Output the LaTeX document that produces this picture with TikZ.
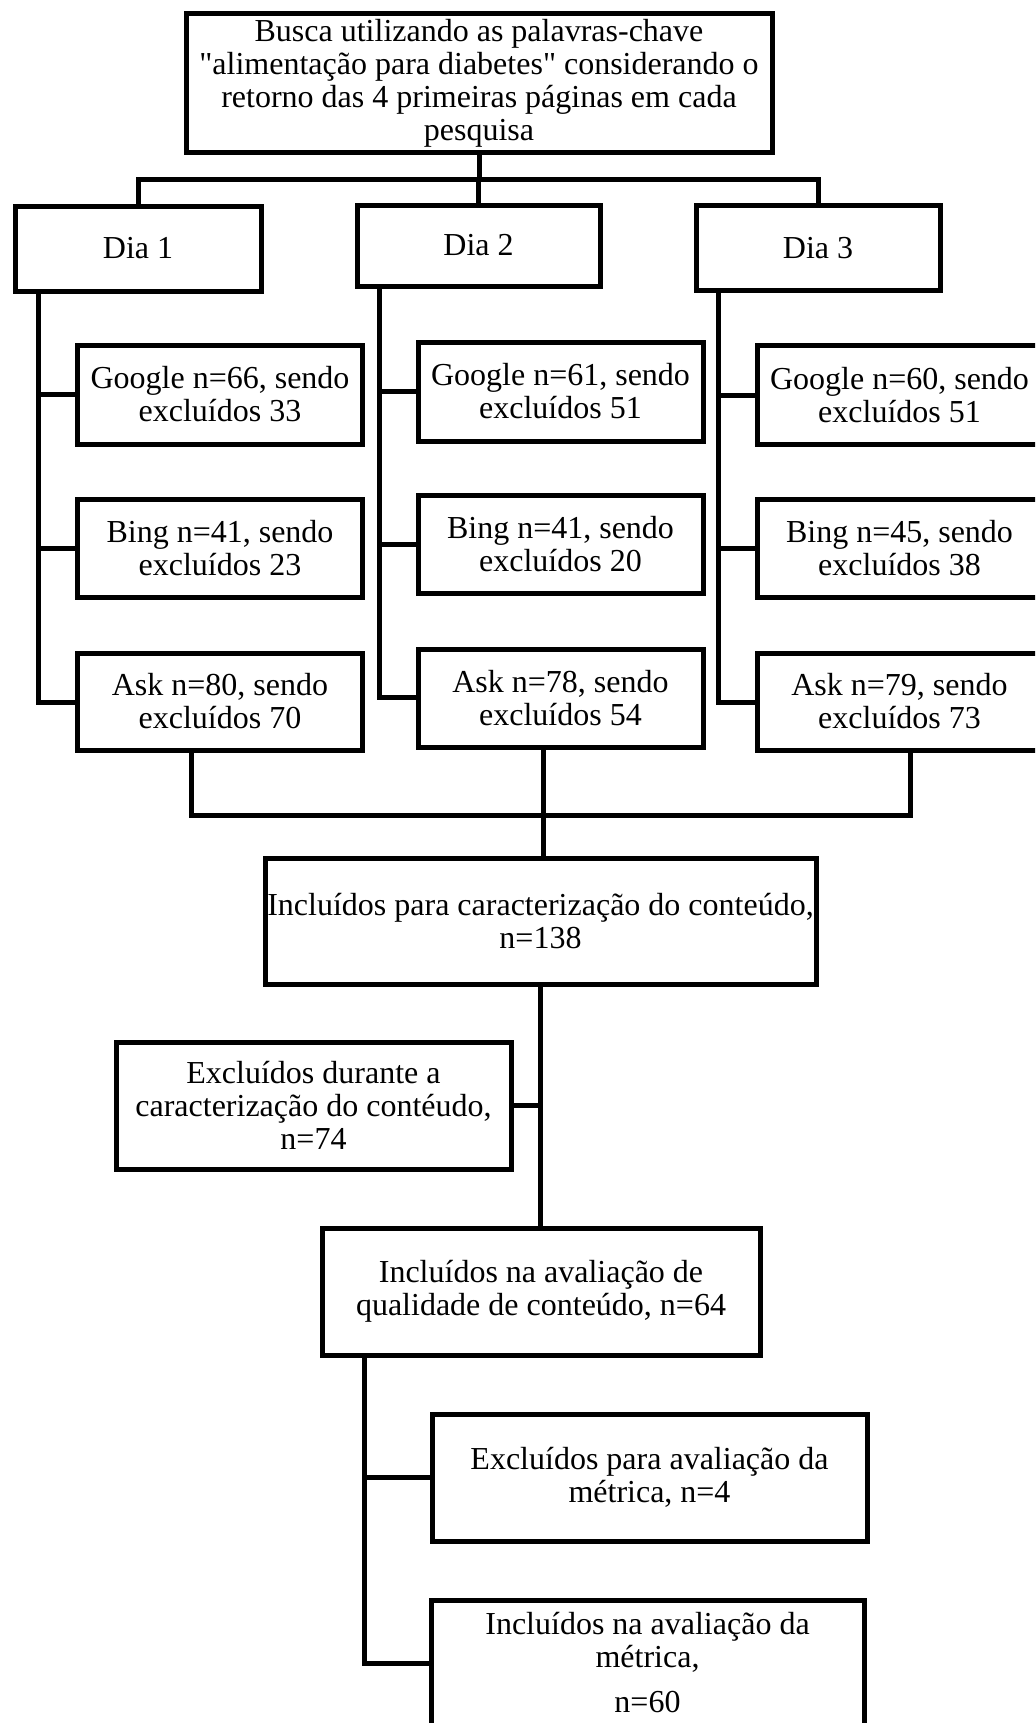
\documentclass[tikz,border=0pt]{standalone}
\usepackage{fontspec}
\setmainfont{Liberation Serif}[Ligatures=TeXOff]
\begin{document}
\begin{tikzpicture}[x=0.5pt,y=-0.5pt,
  box/.style={draw=black,line width=2.5pt,fill=white,inner sep=0pt,align=center,
    font=\fontsize{16}{16.5}\selectfont},
  txt/.style={inner sep=0pt,align=center,font=\fontsize{16}{16.5}\selectfont},
  conn/.style={draw=black,line width=2.5pt}]
\useasboundingbox (0,0) rectangle (1035,1723);
\clip (0,0) rectangle (1035,1723);
\fill[white] (0,0) rectangle (1035,1723);

% top
\node[box,minimum width=293pt,minimum height=69pt] (top) at (479,83)
 {Busca utilizando as palavras-chave\\"alimentação para diabetes" considerando o\\retorno das 4 primeiras páginas em cada\\pesquisa};

% days
\node[box,minimum width=123pt,minimum height=42.5pt] (dia1) at (138,248.5) {Dia 1};
\node[box,minimum width=121.5pt,minimum height=40.5pt] (dia2) at (478.5,245.5) {Dia 2};
\node[box,minimum width=122pt,minimum height=42.5pt] (dia3) at (818,248) {Dia 3};

% column 1
\node[box,minimum width=142.5pt,minimum height=49.5pt] (g1) at (220,394.5) {Google n=66, sendo\\excluídos 33};
\node[box,minimum width=142.5pt,minimum height=49pt] (b1) at (220,548) {Bing n=41, sendo\\excluídos 23};
\node[box,minimum width=142.5pt,minimum height=48.5pt] (a1) at (220,701.5) {Ask n=80, sendo\\excluídos 70};
% column 2
\node[box,minimum width=142.5pt,minimum height=49.5pt] (g2) at (560.5,391.5) {Google n=61, sendo\\excluídos 51};
\node[box,minimum width=142.5pt,minimum height=49pt] (b2) at (560.5,544) {Bing n=41, sendo\\excluídos 20};
\node[box,minimum width=142.5pt,minimum height=49pt] (a2) at (560.5,698) {Ask n=78, sendo\\excluídos 54};
% column 3
\node[box,minimum width=142.5pt,minimum height=49.5pt] (g3) at (899.5,395) {Google n=60, sendo\\excluídos 51};
\node[box,minimum width=142.5pt,minimum height=49pt] (b3) at (899.5,548) {Bing n=45, sendo\\excluídos 38};
\node[box,minimum width=142.5pt,minimum height=48.5pt] (a3) at (899.5,701.5) {Ask n=79, sendo\\excluídos 73};

% lower chain
\node[box,minimum width=275.5pt,minimum height=63pt] (inc1) at (540.5,921) {Incluídos para caracterização do conteúdo,\\n=138};
\node[box,minimum width=197.5pt,minimum height=63.5pt] (exc1) at (313.5,1105.5) {Excluídos durante a\\caracterização do contéudo,\\n=74};
\node[box,minimum width=219pt,minimum height=63.5pt] (inc2) at (541,1291.5) {Incluídos na avaliação de\\qualidade de conteúdo, n=64};
\node[box,minimum width=217.5pt,minimum height=63.5pt] (exc2) at (649.5,1477.5) {Excluídos para avaliação da\\métrica, n=4};
\node[box,minimum width=216.5pt,minimum height=80pt] (inc3) at (647.5,1680) {};
\node[txt,anchor=north] (inc3t) at (647.5,1612) {Incluídos na avaliação da\\métrica,\\[6pt]n=60};

% connectors: top to days
\coordinate (t) at (479,179);
\draw[conn] (top.south) -- (t);
\draw[conn] (dia1.north) |- (t) -| (dia3.north);
\draw[conn] (dia2.north) -- (dia2.north |- t);

% day spines
\coordinate (v1) at (38.5,702);
\coordinate (v2) at (379,697);
\coordinate (v3) at (718.5,702);
\draw[conn] (dia1.south -| v1) -- (v1) -- (a1.west |- v1);
\draw[conn] (g1.west) -- (g1.west -| v1);
\draw[conn] (b1.west) -- (b1.west -| v1);
\draw[conn] (dia2.south -| v2) -- (v2) -- (a2.west |- v2);
\draw[conn] (g2.west) -- (g2.west -| v2);
\draw[conn] (b2.west) -- (b2.west -| v2);
\draw[conn] (dia3.south -| v3) -- (v3) -- (a3.west |- v3);
\draw[conn] (g3.west) -- (g3.west -| v3);
\draw[conn] (b3.west) -- (b3.west -| v3);

% merge
\coordinate (j1) at (191,815);
\coordinate (j2) at (543,815);
\coordinate (j3) at (910,815);
\draw[conn] (a1.south -| j1) -- (j1) -- (j3) -- (a3.south -| j3);
\draw[conn] (a2.south -| j2) -- (inc1.north -| j2);

% lower
\draw[conn] (inc1.south) -- (inc1.south |- inc2.north);
\draw[conn] (exc1.east) -- (exc1.east -| inc1.south);
\coordinate (v4) at (364,1663);
\draw[conn] (inc2.south -| v4) -- (v4) -- (inc3.west |- v4);
\draw[conn] (exc2.west) -- (exc2.west -| v4);
\end{tikzpicture}
\end{document}
